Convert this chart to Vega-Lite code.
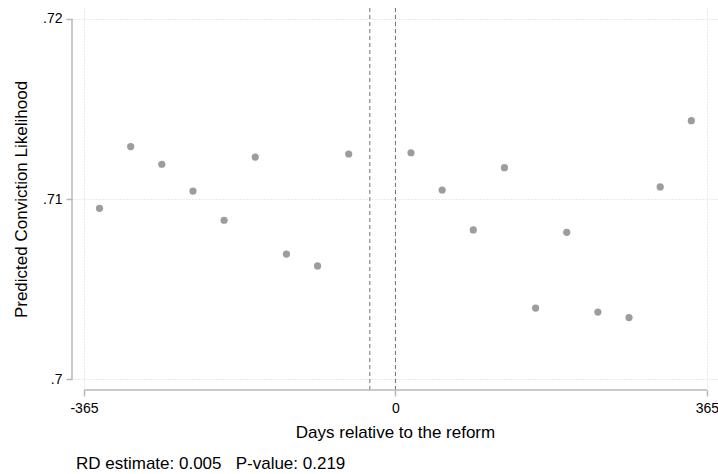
{
  "$schema": "https://vega.github.io/schema/vega-lite/v6.json",
  "autosize": "none",
  "padding": {"left": 72, "top": 8, "right": 0, "bottom": 84},
  "width": 646,
  "height": 382,
  "background": "white",
  "config": {
    "font": "Liberation Sans",
    "view": {"stroke": null},
    "axis": {
      "labelFont": "Liberation Sans",
      "titleFont": "Liberation Sans",
      "labelColor": "#000000",
      "titleColor": "#000000",
      "labelFontSize": 14,
      "titleFontSize": 17,
      "titleFontWeight": "normal",
      "domain": false,
      "tickColor": "#b8b8b8",
      "tickWidth": 1.5,
      "tickSize": 6,
      "grid": true,
      "gridColor": "#d4d4d4",
      "gridDash": [1, 2],
      "gridWidth": 1
    }
  },
  "title": {
    "text": "RD estimate: 0.005\u00a0\u00a0\u00a0P-value: 0.219",
    "orient": "bottom",
    "anchor": "start",
    "frame": "group",
    "fontSize": 17,
    "fontWeight": "normal",
    "color": "#000000",
    "font": "Liberation Sans",
    "offset": 16,
    "dx": 4
  },
  "layer": [
    {
      "data": {"values": [{"cutoff": -30}, {"cutoff": 0}]},
      "mark": {"type": "rule", "color": "#707070", "strokeDash": [4, 3], "strokeWidth": 1},
      "encoding": {
        "x": {"field": "cutoff", "type": "quantitative"}
      }
    },
    {
      "data": {"values": [{}]},
      "mark": {"type": "rule", "color": "#b8b8b8", "strokeWidth": 1.5},
      "encoding": {
        "x": {"datum": -365, "type": "quantitative"},
        "x2": {"datum": 365},
        "y": {"datum": 0.699389, "type": "quantitative"}
      }
    },
    {
      "data": {"values": [{}]},
      "mark": {"type": "rule", "color": "#b8b8b8", "strokeWidth": 1.5},
      "encoding": {
        "x": {"datum": -379, "type": "quantitative"},
        "y": {"datum": 0.70, "type": "quantitative"},
        "y2": {"datum": 0.72}
      }
    },
    {
      "data": {
        "values": [
          {"day": -346.75, "pred": 0.70948},
          {"day": -310.25, "pred": 0.71291},
          {"day": -273.75, "pred": 0.71193},
          {"day": -237.25, "pred": 0.71044},
          {"day": -200.75, "pred": 0.70882},
          {"day": -164.25, "pred": 0.71233},
          {"day": -127.75, "pred": 0.70694},
          {"day": -91.25, "pred": 0.70628},
          {"day": -54.75, "pred": 0.71250},
          {"day": 18.25, "pred": 0.71257},
          {"day": 54.75, "pred": 0.71050},
          {"day": 91.25, "pred": 0.70828},
          {"day": 127.75, "pred": 0.71174},
          {"day": 164.25, "pred": 0.70394},
          {"day": 200.75, "pred": 0.70815},
          {"day": 237.25, "pred": 0.70372},
          {"day": 273.75, "pred": 0.70341},
          {"day": 310.25, "pred": 0.71067},
          {"day": 346.75, "pred": 0.71435}
        ]
      },
      "mark": {"type": "circle", "size": 52, "color": "#9d9d9d", "opacity": 1},
      "encoding": {
        "x": {
          "field": "day",
          "type": "quantitative",
          "title": "Days relative to the reform",
          "scale": {"domain": [-379, 378], "nice": false, "zero": false},
          "axis": {
            "values": [-365, 0, 365],
            "labelExpr": "'' + datum.value",
            "labelPadding": 5,
            "titlePadding": 9,
            "labelFlush": false
          }
        },
        "y": {
          "field": "pred",
          "type": "quantitative",
          "title": "Predicted Conviction Likelihood",
          "scale": {"domain": [0.699389, 0.720611], "nice": false, "zero": false},
          "axis": {
            "values": [0.70, 0.71, 0.72],
            "labelExpr": "substring(format(datum.value, '.2~f'), 1)",
            "labelPadding": 4,
            "titlePadding": 12
          }
        }
      }
    }
  ]
}
